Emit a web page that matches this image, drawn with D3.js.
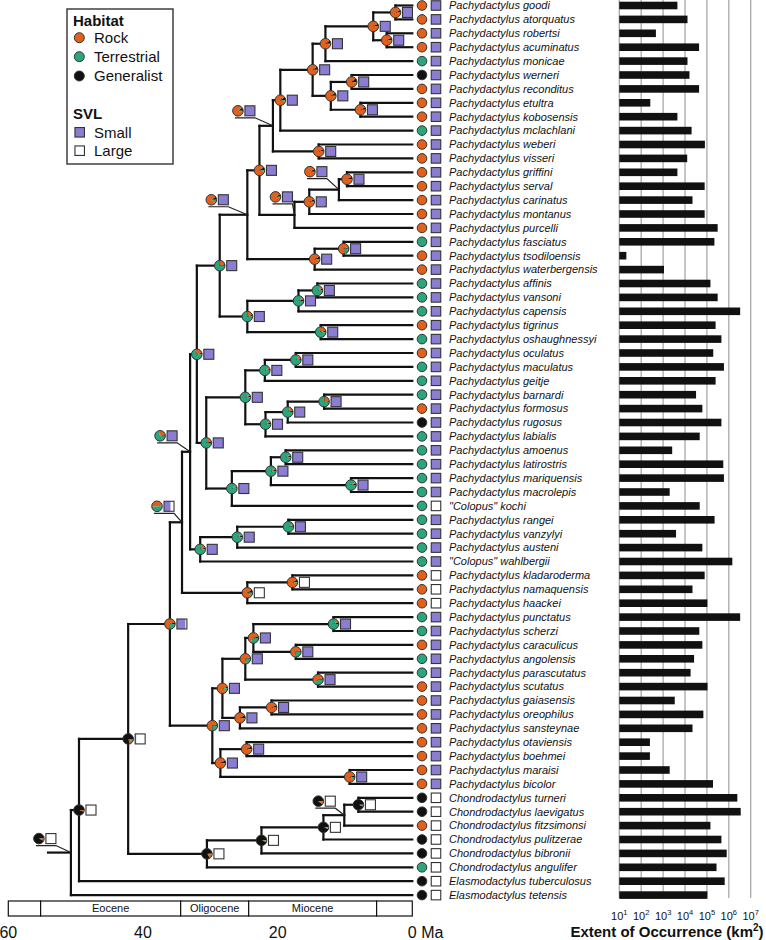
<!DOCTYPE html>
<html><head><meta charset="utf-8">
<script src="https://cdnjs.cloudflare.com/ajax/libs/d3/7.8.5/d3.min.js"></script>
<style>body{margin:0;background:#fff} svg{display:block;font-family:"Liberation Sans",Arial,Helvetica,sans-serif}</style>
</head><body><svg id="c" width="766" height="940"></svg>
<script>
// ---------------- DATA ----------------
const taxa = [
"Pachydactylus goodi","Pachydactylus atorquatus","Pachydactylus robertsi","Pachydactylus acuminatus",
"Pachydactylus monicae","Pachydactylus werneri","Pachydactylus reconditus","Pachydactylus etultra",
"Pachydactylus kobosensis","Pachydactylus mclachlani","Pachydactylus weberi","Pachydactylus visseri",
"Pachydactylus griffini","Pachydactylus serval","Pachydactylus carinatus","Pachydactylus montanus",
"Pachydactylus purcelli","Pachydactylus fasciatus","Pachydactylus tsodiloensis","Pachydactylus waterbergensis",
"Pachydactylus affinis","Pachydactylus vansoni","Pachydactylus capensis","Pachydactylus tigrinus",
"Pachydactylus oshaughnessyi","Pachydactylus oculatus","Pachydactylus maculatus","Pachydactylus geitje",
"Pachydactylus barnardi","Pachydactylus formosus","Pachydactylus rugosus","Pachydactylus labialis",
"Pachydactylus amoenus","Pachydactylus latirostris","Pachydactylus mariquensis","Pachydactylus macrolepis",
"\"Colopus\" kochi","Pachydactylus rangei","Pachydactylus vanzylyi","Pachydactylus austeni",
"\"Colopus\" wahlbergii","Pachydactylus kladaroderma","Pachydactylus namaquensis","Pachydactylus haackei",
"Pachydactylus punctatus","Pachydactylus scherzi","Pachydactylus caraculicus","Pachydactylus angolensis",
"Pachydactylus parascutatus","Pachydactylus scutatus","Pachydactylus gaiasensis","Pachydactylus oreophilus",
"Pachydactylus sansteynae","Pachydactylus otaviensis","Pachydactylus boehmei","Pachydactylus maraisi",
"Pachydactylus bicolor","Chondrodactylus turneri","Chondrodactylus laevigatus","Chondrodactylus fitzsimonsi",
"Chondrodactylus pulitzerae","Chondrodactylus bibronii","Chondrodactylus angulifer","Elasmodactylus tuberculosus",
"Elasmodactylus tetensis"];

// tip habitat: R rock, T terrestrial, G generalist
const habitat = ["R","R","R","R","T","G","R","R","R","T","R","R","R","R","R","R","R","T","R","R",
"T","T","T","R","T","R","T","T","T","R","G","T","T","T","T","T","T","T","T","T",
"T","R","R","R","T","T","R","T","T","R","R","R","R","R","R","R","R","G","G","R",
"G","G","T","G","G"];

// tip SVL: S small, L large
const svl = ["S","S","S","S","S","S","S","S","S","S","S","S","S","S","S","S","S","S","S","S",
"S","S","S","S","S","S","S","S","S","S","S","S","S","S","S","S","L","S","S","S",
"S","L","L","L","S","S","S","S","S","S","S","S","S","S","S","S","S","L","L","L",
"L","L","L","L","L"];

// Extent of occurrence, km^2
const eoo = [4500,13000,470,44000,13000,16000,44000,260,4500,20000,81000,12600,
4500,79000,22000,79000,310000,220000,21,1100,145000,310000,3300000,250000,
460000,195000,600000,250000,32000,62000,460000,47000,2600,560000,600000,2000,
47000,224000,3900,62000,1450000,79000,22000,105000,3300000,45000,62000,26000,
18000,107000,3400,69000,22000,250,250,2000,190000,2450000,3500000,145000,
460000,800000,275000,650000,105000];

// internal nodes: [id, child1, child2, age (Ma), P(generalist), P(rock), P(terrestrial), P(small SVL)]
const nodes = [
["A","goodi","atorquatus",2.5,.08,.92,0,1],
["B","robertsi","acuminatus",3.8,.08,.92,0,1],
["C","A","B",5.8,.08,.92,0,1],
["D","C","monicae",12.9,.1,.88,.02,1],
["E","werneri","reconditus",9.0,.12,.86,.02,1],
["F","etultra","kobosensis",7.7,.08,.92,0,1],
["G","E","F",12.1,.1,.88,.02,1],
["H","D","G",14.8,.1,.88,.02,1],
["I","H","mclachlani",19.6,.1,.85,.05,1],
["K","weberi","visseri",13.9,.08,.9,.02,1],
["J","I","K",20.7,.1,.85,.05,1],
["L1","griffini","serval",9.7,.08,.92,0,1],
["L2","L1","carinatus",10.9,.08,.9,.02,1],
["L3","L2","montanus",15.3,.08,.9,.02,1],
["L4","L3","purcelli",17.5,.08,.9,.02,1],
["M","J","L4",22.7,.1,.85,.05,1],
["P","fasciatus","tsodiloensis",10.2,.05,.75,.2,1],
["O","P","waterbergensis",14.5,.08,.88,.04,1],
["N","M","O",24.5,.1,.8,.1,1],
["R1","affinis","vansoni",14.1,.05,.05,.9,1],
["R2","R1","capensis",16.9,.05,.05,.9,1],
["R3","tigrinus","oshaughnessyi",13.6,.05,.25,.7,1],
["R","R2","R3",24.5,.05,.2,.75,1],
["Q","N","R",28.6,.05,.2,.75,1],
["T1a1","oculatus","maculatus",17.3,.03,.12,.85,1],
["T1a","T1a1","geitje",21.9,.05,.05,.9,1],
["T1b1a","barnardi","formosus",13.1,.03,.2,.77,1],
["T1b1","T1b1a","rugosus",18.5,.05,.12,.83,1],
["T1b","T1b1","labialis",21.8,.05,.05,.9,1],
["T1","T1a","T1b",24.8,.05,.05,.9,1],
["T2a1","amoenus","latirostris",18.8,.05,.05,.9,1],
["T2a2","mariquensis","macrolepis",9.1,.05,.05,.9,1],
["T2a","T2a1","T2a2",21.0,.05,.05,.9,1],
["T2","T2a","kochi",26.8,.05,.05,.9,1],
["T","T1","T2",30.6,.05,.15,.8,1],
["S","Q","T",32.0,.05,.25,.7,1],
["U1","rangei","vanzylyi",18.4,.05,.05,.9,1],
["U2","U1","austeni",26.0,.05,.05,.9,1],
["U","U2","wahlbergii",31.5,.05,.15,.8,1],
["V","S","U",33.0,.05,.25,.7,1],
["X1","kladaroderma","namaquensis",17.8,.08,.9,.02,0],
["X","X1","haackei",24.5,.1,.8,.1,0],
["W","V","X",34.2,.02,.5,.48,.65],
["Z1a1a","punctatus","scherzi",11.7,.05,.05,.9,1],
["Z1a1b","caraculicus","angolensis",17.3,.05,.65,.3,1],
["Z1a1","Z1a1a","Z1a1b",23.6,.05,.6,.35,1],
["Z1a2","parascutatus","scutatus",14.0,.05,.55,.4,1],
["Z1a","Z1a1","Z1a2",24.8,.05,.75,.2,1],
["Z1b1","gaiasensis","oreophilus",20.9,.08,.9,.02,1],
["Z1b","Z1b1","sansteynae",25.6,.08,.9,.02,1],
["Z1","Z1a","Z1b",28.2,.05,.85,.1,1],
["Z2a","otaviensis","boehmei",24.6,.08,.9,.02,1],
["Z2b","maraisi","bicolor",9.3,.05,.85,.1,1],
["Z2","Z2a","Z2b",28.5,.08,.9,.02,1],
["Z","Z1","Z2",29.7,.05,.7,.25,1],
["Y","W","Z",36.0,.05,.7,.25,.85],
["CC4","turneri","laevigatus",8.0,.95,.04,.01,0],
["CC3","CC4","fitzsimonsi",10.1,.9,.1,0,0],
["CC2","CC3","pulitzerae",13.2,.95,.04,.01,0],
["CC1","CC2","bibronii",22.4,.95,.04,.01,0],
["CC","CC1","angulifer",30.5,.85,.12,.03,0],
["AA","Y","CC",42.2,.8,.12,.08,.1],
["BB","AA","tuberculosus",49.5,.95,.05,0,0],
["ROOT","BB","tetensis",50.7,.93,.07,0,0]];
const stemAge = 54.1;

// geological epochs
const epochs = [["",60,55.2],["Eocene",55.2,34.4],["Oligocene",34.4,24.3],["Miocene",24.3,5.3],["",5.3,0]];
const timeTicks = [60,40,20,0];
const eooTicks = [1e1,1e2,1e3,1e4,1e5,1e6,1e7];

// ---------------- LAYOUT / STYLE ----------------
const labelShift = {J:[-35,-15],L2:[-29,-18],L4:[-19,-18],N:[-36,-15],V:[-30,-16],W:[-25,-16],CC3:[-26,-14],ROOT:[-32,-14]};
const col = {R:"#e0601c",T:"#2ba57b",G:"#111111"};
const purple = "#8b7dd2";
const svg = d3.select("#c");
const x = d3.scaleLinear().domain([60,0]).range([8.3,412.3]);
const y = d3.scaleLinear().domain([0,taxa.length-1]).range([5.5,895.1]);
const xe = d3.scaleLog().domain([10,1e7]).range([619.3,750.7]);

// grid & bars
const gG = svg.append("g");
eooTicks.forEach(t=>gG.append("line").attr("x1",xe(t)).attr("x2",xe(t)).attr("y1",0).attr("y2",898)
  .attr("stroke","#a8a8a8").attr("stroke-width",1.3));
svg.append("g").selectAll("rect").data(eoo).join("rect")
  .attr("x",xe(10)).attr("y",(d,i)=>y(i)-3.8).attr("height",7.6)
  .attr("width",d=>xe(d)-xe(10)).attr("fill","#111");
const tl = svg.append("g").attr("font-size",11).attr("fill","#111").attr("text-anchor","middle");
eooTicks.forEach(t=>{
  const tx = tl.append("text").attr("x",xe(t)).attr("y",919.5);
  tx.append("tspan").text("10");
  tx.append("tspan").attr("dy",-5).attr("font-size",7.5).text(Math.round(Math.log10(t)));
});
const at = svg.append("text").attr("x",667).attr("y",937).attr("text-anchor","middle")
  .attr("font-size",15).attr("font-weight","bold").attr("fill","#111");
at.append("tspan").text("Extent of Occurrence (km");
at.append("tspan").attr("dy",-6).attr("font-size",10).text("2");
at.append("tspan").attr("dy",6).text(")");

// tree positions
const tipIds = taxa.map(t=>t.split(" ").pop());
const pos = {};
tipIds.forEach((id,i)=>pos[id]={x:x(0),y:y(i)});
nodes.forEach(([id,a,b,age])=>{pos[id]={x:x(age),y:(pos[a].y+pos[b].y)/2};});

const gT = svg.append("g").attr("stroke","#111").attr("stroke-width",2.2).attr("stroke-linecap","square");
nodes.forEach(([id,a,b])=>{
  const p=pos[id],A=pos[a],B=pos[b];
  gT.append("line").attr("x1",p.x).attr("x2",p.x).attr("y1",A.y).attr("y2",B.y);
  [A,B].forEach(c=>gT.append("line").attr("x1",p.x).attr("x2",c.x).attr("y1",c.y).attr("y2",c.y));
});
gT.append("line").attr("x1",x(stemAge)).attr("x2",pos.ROOT.x).attr("y1",pos.ROOT.y).attr("y2",pos.ROOT.y);

// node marks
const pie = d3.pie().sort(null).value(d=>d).startAngle(Math.PI/2).endAngle(Math.PI/2-2*Math.PI);
const gN = svg.append("g");
function drawPie(g,cx,cy,r,vals){
  const arc = d3.arc().innerRadius(0).outerRadius(r);
  const cols=[col.G,col.R,col.T];
  pie(vals).forEach((s,i)=>{ if(s.value>0) g.append("path").attr("d",arc(s)).attr("transform",`translate(${cx},${cy})`).attr("fill",cols[i]); });
  g.append("circle").attr("cx",cx).attr("cy",cy).attr("r",r).attr("fill","none").attr("stroke","#333").attr("stroke-width",1);
}
function drawSq(g,cx,cy,s,frac){
  g.append("rect").attr("x",cx-s/2).attr("y",cy-s/2).attr("width",s).attr("height",s).attr("fill","#fff");
  if(frac>0) g.append("rect").attr("x",cx-s/2).attr("y",cy-s/2).attr("width",s*frac).attr("height",s).attr("fill",purple);
  g.append("rect").attr("x",cx-s/2).attr("y",cy-s/2).attr("width",s).attr("height",s).attr("fill","none").attr("stroke","#333").attr("stroke-width",1.1);
}
nodes.forEach(([id,a,b,age,pg,pr,pt,ps])=>{
  const p=pos[id]; let cx=p.x, cy=p.y;
  if(labelShift[id]){
    cx=p.x+labelShift[id][0]; cy=p.y+labelShift[id][1];
    gN.append("polyline").attr("points",`${cx-3},${cy+7} ${cx+17},${cy+7} ${p.x},${p.y}`)
      .attr("fill","none").attr("stroke","#222").attr("stroke-width",1.2);
  }
  drawPie(gN,cx,cy,5.3,[pg,pr,pt]);
  drawSq(gN,cx+12,cy,10,ps);
});

// tips
const gTip = svg.append("g");
taxa.forEach((t,i)=>{
  const yy=y(i);
  gTip.append("circle").attr("cx",422).attr("cy",yy).attr("r",4.8).attr("fill",col[habitat[i]]).attr("stroke","#333").attr("stroke-width",1);
  drawSq(gTip,436,yy,9.5,svl[i]==="S"?1:0);
  gTip.append("text").attr("x",449).attr("y",yy+3.8).attr("font-size",11).attr("font-style","italic").attr("fill","#111").text(t);
});

// timescale
const gE = svg.append("g");
epochs.forEach(([n,a,b])=>{
  gE.append("rect").attr("x",x(a)).attr("y",901).attr("width",x(b)-x(a)).attr("height",15)
    .attr("fill","#fff").attr("stroke","#111").attr("stroke-width",1.2);
  if(n) gE.append("text").attr("x",(x(a)+x(b))/2).attr("y",912).attr("text-anchor","middle").attr("font-size",11).attr("fill","#111").text(n);
});
timeTicks.forEach(t=>{
  if(t===0) svg.append("text").attr("x",x(0)-4.5).attr("y",938).attr("font-size",16).attr("fill","#111").text("0 Ma");
  else svg.append("text").attr("x",x(t)).attr("y",938).attr("text-anchor","middle").attr("font-size",16).attr("fill","#111").text(t);
});

// legend
const L = svg.append("g");
L.append("rect").attr("x",67).attr("y",9).attr("width",106).attr("height",155).attr("fill","#fff").attr("stroke","#333").attr("stroke-width",1.4);
L.append("text").attr("x",73).attr("y",26).attr("font-size",15).attr("font-weight","bold").attr("fill","#111").text("Habitat");
[["Rock","R",37.7],["Terrestrial","T",56.7],["Generalist","G",76]].forEach(([n,k,yy])=>{
  L.append("circle").attr("cx",79.3).attr("cy",yy).attr("r",5).attr("fill",col[k]).attr("stroke","#333").attr("stroke-width",1);
  L.append("text").attr("x",94).attr("y",yy+5.3).attr("font-size",15).attr("fill","#111").text(n);
});
L.append("text").attr("x",73).attr("y",119).attr("font-size",15).attr("font-weight","bold").attr("fill","#111").text("SVL");
[["Small",1,132.3],["Large",0,150.7]].forEach(([n,f,yy])=>{
  drawSq(L,79.7,yy,9.5,f);
  L.append("text").attr("x",94).attr("y",yy+5.3).attr("font-size",15).attr("fill","#111").text(n);
});
</script></body></html>
